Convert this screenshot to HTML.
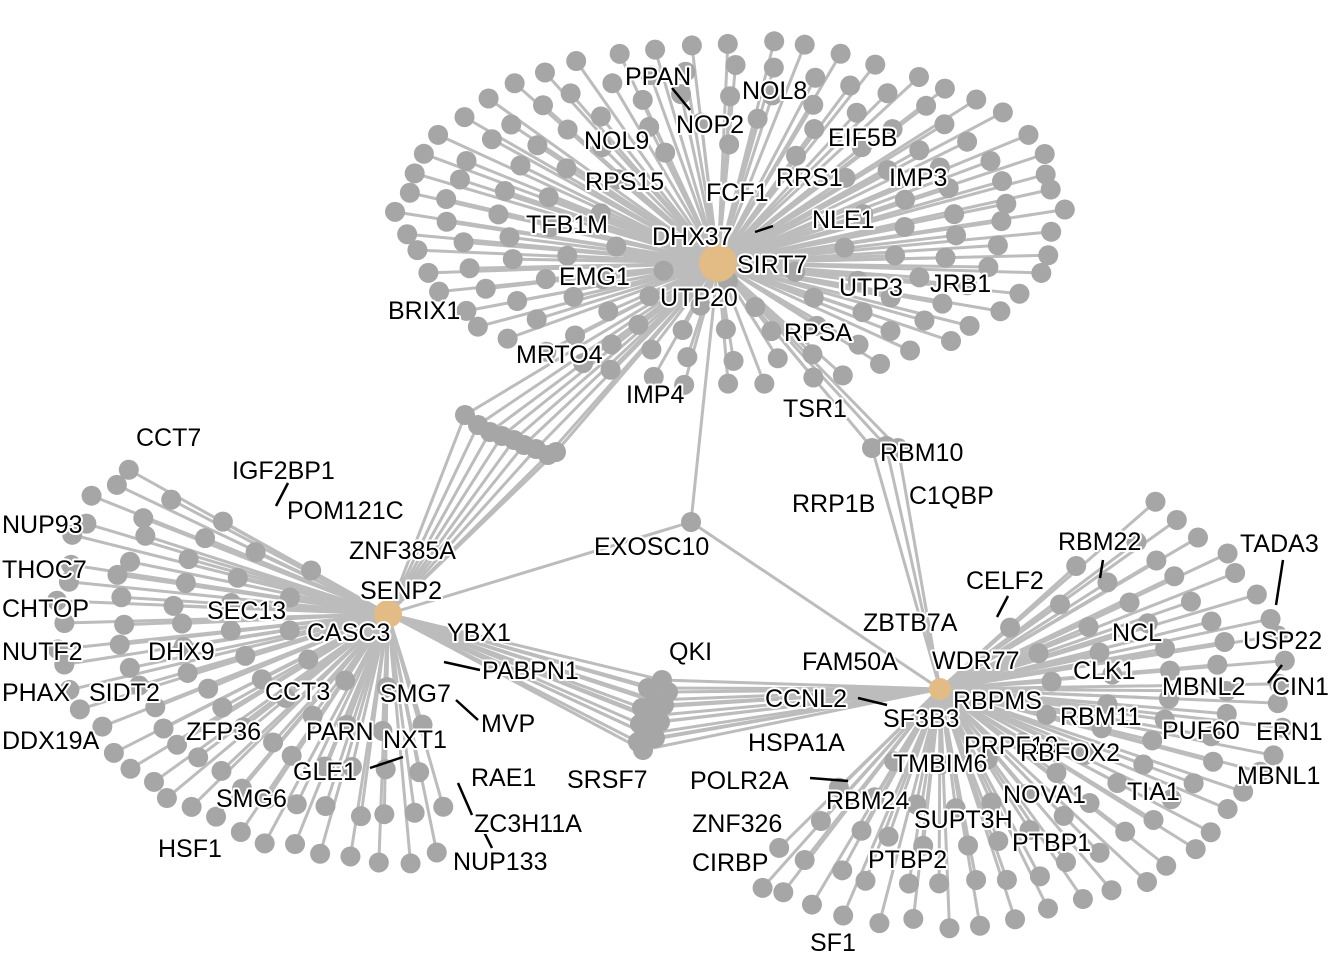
<!DOCTYPE html>
<html><head><meta charset="utf-8"><style>
html,body{margin:0;padding:0;background:#fff;width:1344px;height:960px;overflow:hidden}
svg{display:block}
text{font-family:"Liberation Sans",sans-serif;font-size:25px;fill:#000;stroke:#fff;stroke-width:4px;paint-order:stroke;stroke-linejoin:round}
</style></head><body>
<svg id="s" width="1344" height="960" viewBox="0 0 1344 960">
<g id="edges" stroke="#bcbcbc" stroke-width="3" fill="none"></g>
<g id="nodes" fill="#a6a6a6"></g>
<g fill="#e3bb85">
<circle cx="718" cy="263" r="19"/>
<circle cx="388" cy="614" r="14"/>
<circle cx="940" cy="689" r="11"/>
</g>
<g stroke="#000" stroke-width="2.5">
<line x1="672" y1="88" x2="690" y2="110"/>
<line x1="755" y1="232" x2="773" y2="226"/>
<line x1="288" y1="483" x2="276" y2="506"/>
<line x1="444" y1="662" x2="480" y2="670"/>
<line x1="456" y1="700" x2="478" y2="720"/>
<line x1="370" y1="768" x2="403" y2="757"/>
<line x1="458" y1="783" x2="472" y2="815"/>
<line x1="484" y1="832" x2="492" y2="848"/>
<line x1="858" y1="698" x2="887" y2="705"/>
<line x1="810" y1="778" x2="848" y2="781"/>
<line x1="1008" y1="596" x2="997" y2="617"/>
<line x1="1103" y1="560" x2="1100" y2="578"/>
<line x1="1283" y1="560" x2="1276" y2="605"/>
<line x1="1282" y1="665" x2="1268" y2="683"/>
</g>
<g>
<text x="625" y="85">PPAN</text><text x="742" y="99">NOL8</text><text x="676" y="133">NOP2</text>
<text x="584" y="149">NOL9</text><text x="828" y="146">EIF5B</text><text x="585" y="190">RPS15</text>
<text x="706" y="201">FCF1</text><text x="776" y="186">RRS1</text><text x="889" y="186">IMP3</text>
<text x="526" y="233">TFB1M</text><text x="812" y="228">NLE1</text><text x="652" y="245">DHX37</text>
<text x="737" y="273">SIRT7</text><text x="559" y="285">EMG1</text><text x="660" y="306">UTP20</text>
<text x="930" y="292">JRB1</text><text x="839" y="296">UTP3</text><text x="388" y="319">BRIX1</text>
<text x="784" y="341">RPSA</text><text x="516" y="363">MRTO4</text><text x="626" y="403">IMP4</text>
<text x="783" y="417">TSR1</text><text x="880" y="461">RBM10</text><text x="792" y="512">RRP1B</text>
<text x="909" y="504">C1QBP</text><text x="594" y="555">EXOSC10</text>
<text x="136" y="446">CCT7</text><text x="232" y="479">IGF2BP1</text><text x="287" y="519">POM121C</text>
<text x="2" y="533">NUP93</text><text x="349" y="559">ZNF385A</text><text x="2" y="578">THOC7</text>
<text x="360" y="599">SENP2</text><text x="2" y="617">CHTOP</text><text x="207" y="619">SEC13</text>
<text x="307" y="641">CASC3</text><text x="447" y="641">YBX1</text><text x="2" y="660">NUTF2</text>
<text x="148" y="660">DHX9</text><text x="669" y="660">QKI</text><text x="482" y="679">PABPN1</text>
<text x="2" y="701">PHAX</text><text x="89" y="701">SIDT2</text><text x="265" y="700">CCT3</text>
<text x="380" y="702">SMG7</text><text x="2" y="749">DDX19A</text><text x="186" y="740">ZFP36</text>
<text x="306" y="740">PARN</text><text x="481" y="732">MVP</text><text x="383" y="748">NXT1</text>
<text x="293" y="780">GLE1</text><text x="471" y="786">RAE1</text><text x="567" y="788">SRSF7</text>
<text x="216" y="807">SMG6</text><text x="474" y="832">ZC3H11A</text><text x="158" y="857">HSF1</text>
<text x="453" y="870">NUP133</text>
<text x="1058" y="550">RBM22</text><text x="1240" y="552">TADA3</text><text x="966" y="589">CELF2</text>
<text x="863" y="631">ZBTB7A</text><text x="1112" y="641">NCL</text><text x="1243" y="649">USP22</text>
<text x="802" y="670">FAM50A</text><text x="932" y="669">WDR77</text><text x="1073" y="679">CLK1</text>
<text x="1162" y="695">MBNL2</text><text x="1272" y="695">CIN1</text><text x="765" y="707">CCNL2</text>
<text x="953" y="709">RBPMS</text><text x="883" y="727">SF3B3</text><text x="1060" y="725">RBM11</text>
<text x="1162" y="739">PUF60</text><text x="1256" y="740">ERN1</text><text x="748" y="751">HSPA1A</text>
<text x="964" y="754">PRPF19</text><text x="1020" y="761">RBFOX2</text><text x="893" y="772">TMBIM6</text>
<text x="1237" y="784">MBNL1</text><text x="690" y="789">POLR2A</text><text x="1127" y="800">TIA1</text>
<text x="1003" y="803">NOVA1</text><text x="826" y="809">RBM24</text><text x="914" y="828">SUPT3H</text>
<text x="692" y="832">ZNF326</text><text x="1012" y="851">PTBP1</text><text x="868" y="868">PTBP2</text>
<text x="692" y="871">CIRBP</text><text x="810" y="951">SF1</text>
</g>
</svg>
<script>
(function(){
var E=document.getElementById('edges'),N=document.getElementById('nodes'),ns='http://www.w3.org/2000/svg';
function line(a,b,c,d){var l=document.createElementNS(ns,'line');l.setAttribute('x1',a);l.setAttribute('y1',b);l.setAttribute('x2',c);l.setAttribute('y2',d);E.appendChild(l);}
function node(x,y){var c=document.createElementNS(ns,'circle');c.setAttribute('cx',x);c.setAttribute('cy',y);c.setAttribute('r',10);N.appendChild(c);}
var seed=7;function rnd(){seed=(seed*16807)%2147483647;return seed/2147483647;}
var H1=[718,263],H2=[388,614],H3=[940,689];
function cluster(h,cx,cy,rx,ry,a0,a1,scales,counts,full){
 for(var i=0;i<scales.length;i++){var n=counts[i];
  for(var k=0;k<n;k++){var t=full?(k+(i%2)*0.5)/n:(n==1?0.5:(k+0.5*(i%2))/(n-0.5));
   var a=(a0+(a1-a0)*t)*Math.PI/180+ (rnd()-0.5)*0.04;
   var s=scales[i]*(1+(rnd()-0.5)*0.05);
   var x=cx+rx*s*Math.cos(a),y=cy+ry*s*Math.sin(a);
   line(h[0],h[1],x,y);node(x,y);}}
}
cluster(H1,730,213,328,170,0,360,[1,0.85,0.7,0.55,0.4],[52,42,32,20,12],true);
cluster(H2,388,614,330,245,218,78,[1,0.82,0.64,0.47,0.3],[28,23,17,11,6],false);
cluster(H3,940,689,345,235,-52,125,[1,0.83,0.66,0.5,0.33],[32,26,20,14,8],false);
var br=[[465,415],[478,425],[490,432],[502,436],[514,440],[524,445],[536,449],[548,455],[556,452]];
br.forEach(function(p){line(H1[0],H1[1],p[0],p[1]);line(H2[0],H2[1],p[0],p[1]);});
var qk=[[662,680],[648,688],[668,692],[655,700],[642,708],[664,705],[650,716],[640,724],[660,722],[646,734],[638,742],[655,738],[643,750]];
qk.forEach(function(p){line(H2[0],H2[1],p[0],p[1]);line(H3[0],H3[1],p[0],p[1]);});
var tb=[[872,448],[886,446],[898,448]];
tb.forEach(function(p){line(H1[0],H1[1],p[0],p[1]);line(H3[0],H3[1],p[0],p[1]);});
line(H1[0],H1[1],691,522);line(H2[0],H2[1],691,522);line(H3[0],H3[1],691,522);
br.concat(qk,tb,[[691,522]]).forEach(function(p){node(p[0],p[1]);});
})();
</script>
</body></html>
